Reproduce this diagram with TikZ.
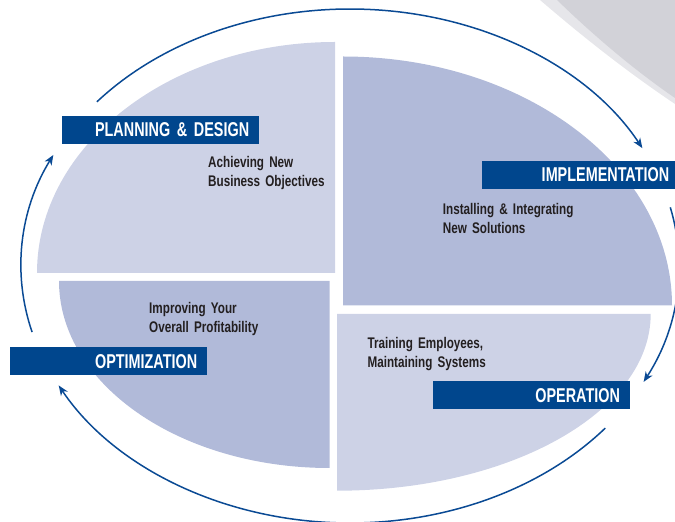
\documentclass[tikz,border=0pt]{standalone}
\usepackage{fontspec}
\usetikzlibrary{arrows.meta}
\newfontfamily\lblfont{Liberation Sans}[FakeStretch=0.72]
\newfontfamily\bodyfont{Liberation Sans}[FakeStretch=0.76]
\definecolor{lightq}{RGB}{205,210,230}
\definecolor{darkq}{RGB}{177,186,217}
\definecolor{boxblue}{RGB}{0,70,141}
\definecolor{arcblue}{RGB}{10,74,148}
\definecolor{txtgray}{RGB}{35,31,32}
\definecolor{bggray}{RGB}{210,210,216}
\tikzset{
  lbl/.style={fill=boxblue, text=white, font=\lblfont\bfseries\fontsize{20}{20}\selectfont,
    minimum width=197pt, minimum height=28pt, text height=14.3pt, text depth=0pt,
    inner xsep=10pt, inner ysep=0pt, text width=177pt, align=right},
  body/.style={text=txtgray, font=\bodyfont\bfseries\fontsize{15.4}{19}\selectfont,
    anchor=base west, inner sep=0pt, text width=200pt, align=left},
  cyc/.style={draw=arcblue, line width=1.5pt, -{Stealth[length=10pt,width=8pt,inset=3pt]}}
}
\begin{document}
\begin{tikzpicture}[x=1pt,y=1pt]
\useasboundingbox (0,0) rectangle (675,522);
% background gray corner
\fill[bggray!55] (540,522) .. controls (575,492) and (620,455) .. (675,418) -- (675,522) -- cycle;
\fill[bggray] (557,522) .. controls (590,490) and (630,455) .. (675,424) -- (675,522) -- cycle;
% quadrants
\fill[lightq] (335,249) -- (37,249) arc[start angle=180, end angle=90, x radius=298pt, y radius=231pt] -- cycle;
\fill[darkq] (343,216.5) -- (343,465.5) arc[start angle=90, end angle=0, x radius=329pt, y radius=249pt] -- cycle;
\fill[darkq] (329.5,241) -- (59,241) arc[start angle=180, end angle=270, x radius=270.5pt, y radius=187pt] -- cycle;
\fill[lightq] (337,208) -- (650.7,208) arc[start angle=0, end angle=-90, x radius=313.7pt, y radius=176.7pt] -- cycle;
% cycle arrows
\coordinate (c) at (350,256);
\draw[cyc] (c) ++(140.3:329 and 257) arc[start angle=140.3, end angle=27.3, x radius=329pt, y radius=257pt];
\draw[cyc] (c) ++(13.2:329 and 257) arc[start angle=13.2, end angle=-26.8, x radius=329pt, y radius=257pt];
\draw[cyc] (c) ++(-39.1:329 and 257) arc[start angle=-39.1, end angle=-152.3, x radius=329pt, y radius=257pt];
\draw[cyc] (c) ++(-165.1:329 and 257) arc[start angle=-165.1, end angle=-205.6, x radius=329pt, y radius=257pt];
% labels
\node[lbl, anchor=south west] (plan) at (62,378) {PLANNING \& DESIGN};
\node[lbl, anchor=south west] (impl) at (482,333) {IMPLEMENTATION};
\node[lbl, anchor=south west] (opti) at (10,146.7) {OPTIMIZATION};
\node[lbl, anchor=south west] (oper) at (432.7,112.3) {OPERATION};
% body texts
\node[body] (tplan) at (208,354) {Achieving New\\Business Objectives};
\node[body] (timpl) at (442.7,307) {Installing \& Integrating\\New Solutions};
\node[body] (topti) at (149,208.7) {Improving Your\\Overall Profitability};
\node[body] (toper) at (367.3,173.3) {Training Employees,\\Maintaining Systems};
\end{tikzpicture}
\end{document}
